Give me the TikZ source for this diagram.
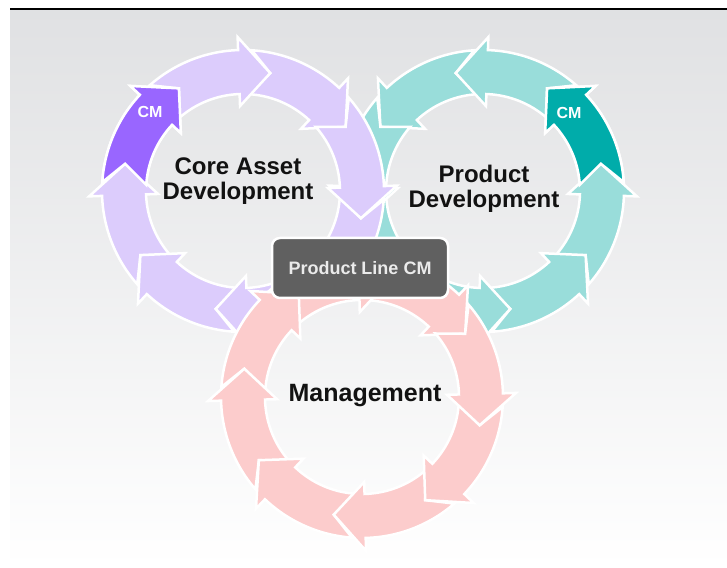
\documentclass[tikz,border=0pt]{standalone}
\usepackage{fontspec}
\setmainfont{Liberation Sans}
\usepackage{xcolor}
\usepackage{tikz}
\usetikzlibrary{positioning, calc}

% Một mũi tên cong trên vòng: tâm (#1,#2), góc đỉnh #3, chiều #4 (+1 thuận kim đồng hồ), màu #5
\newcommand{\arcseg}[5]{%
    \pgfmathsetmacro{\segHead}{#3+#4*15}
    \pgfmathsetmacro{\segPrev}{#3+#4*45}
    \pgfmathsetmacro{\segTail}{#3+#4*54.4}
    \filldraw[fill=#5, draw=white, line width=2.5pt, line join=miter]
        ($(#1,#2)+(\segTail:141)$) arc[start angle=\segTail, end angle=\segHead, radius=141]
        -- ($(#1,#2)+(\segHead:154)$) -- ($(#1,#2)+(#3:121)$) -- ($(#1,#2)+(\segHead:85)$)
        -- ($(#1,#2)+(\segHead:97)$) arc[start angle=\segHead, end angle=\segTail, radius=97]
        -- ($(#1,#2)+(\segPrev:121)$) -- cycle;
}

\begin{document}
\begin{tikzpicture}[x=1pt, y=1pt,
        ringtext/.style={font=\fontsize{24}{24.5}\selectfont\bfseries, text=black!93, align=center, inner sep=0pt},
        cmtext/.style={font=\fontsize{16}{16}\selectfont\bfseries, text=white, inner sep=0pt}]
        % Định nghĩa màu sắc
        \definecolor{bgtop}{RGB}{224,225,227}
        \definecolor{cadpurple}{RGB}{220,204,252}
        \definecolor{cadcmpurple}{RGB}{153,102,255}
        \definecolor{pdteal}{RGB}{153,221,218}
        \definecolor{pdcmteal}{RGB}{0,172,170}
        \definecolor{mgmtpink}{RGB}{252,204,204}
        \definecolor{boxgray}{RGB}{96,96,96}

        % 0. Nền và đường kẻ trên
        \useasboundingbox (0,0) rectangle (727,567);
        \shade[top color=bgtop, bottom color=white] (10,0) rectangle (727,557);
        \draw[line width=2pt, black] (10,558) -- (727,558);

        % 1. Vòng Product Development (ngược chiều kim đồng hồ)
        \foreach \b in {148,103,58,13,-32,-77,-122,-167} {
            \arcseg{483}{376}{\b}{-1}{pdteal}
        }
        \arcseg{483}{376}{58}{-1}{pdcmteal}

        % 2. Vòng Core Asset Development (thuận chiều kim đồng hồ)
        \foreach \b in {32,77,122,167,212,257,302,347} {
            \arcseg{243}{376}{\b}{1}{cadpurple}
        }
        \arcseg{243}{376}{122}{1}{cadcmpurple}

        % 3. Vòng Management
        \foreach \b in {31.5,76.5,121.5,166.5,211.5,256.5,301.5,346.5} {
            \arcseg{362}{170}{\b}{1}{mgmtpink}
        }

        % 4. Nhãn các vòng
        \node[ringtext] (cad) at (238,386) {Core Asset\\Development};
        \node[ringtext] (pd) at (484,378) {Product\\Development};
        \node[ringtext, font=\fontsize{25}{25}\selectfont\bfseries, anchor=base] (mgmt) at (365,165) {Management};
        \node[cmtext] (cadcm) at (150,455) {CM};
        \node[cmtext] (pdcm) at (569,454) {CM};

        % 5. Hộp Product Line CM
        \node[draw=white, line width=2.5pt, fill=boxgray, rounded corners=8pt,
              minimum width=176pt, minimum height=60pt,
              font=\fontsize{18}{18}\selectfont\bfseries, text=black!8] (plcm) at (360,299) {Product Line CM};

    \end{tikzpicture}
\end{document}
